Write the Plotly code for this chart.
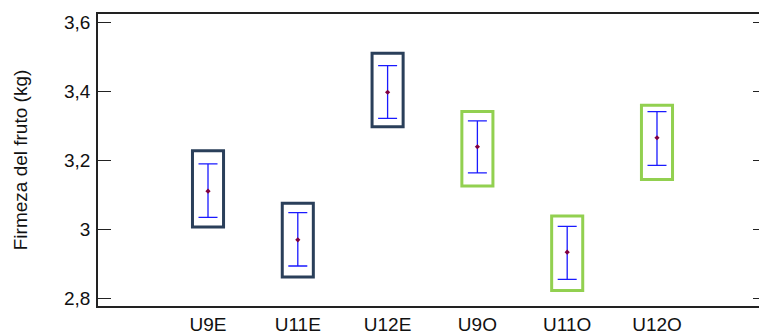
import plotly.graph_objects as go

categories = ["U9E", "U11E", "U12E", "U9O", "U11O", "U12O"]
means = [3.110, 2.969, 3.397, 3.239, 2.933, 3.265]
err_high = [3.189, 3.048, 3.474, 3.314, 3.008, 3.341]
err_low = [3.034, 2.893, 3.321, 3.163, 2.854, 3.185]
box_high = [3.227, 3.075, 3.510, 3.341, 3.038, 3.359]
box_low = [3.006, 2.861, 3.297, 3.125, 2.822, 3.144]
groups = ["E", "E", "E", "O", "O", "O"]
y_ticks = [2.8, 3.0, 3.2, 3.4, 3.6]

box_colors = {"E": "#2a3f5a", "O": "#92d050"}
xs = list(range(len(categories)))
half_w = 0.173

fig = go.Figure()

shapes = []
for i, (lo, hi, g) in enumerate(zip(box_low, box_high, groups)):
    shapes.append(dict(type="rect", xref="x", yref="y",
                       x0=xs[i] - half_w, x1=xs[i] + half_w, y0=lo, y1=hi,
                       line=dict(color=box_colors[g], width=3), layer="below"))

fig.add_trace(go.Scatter(
    x=xs, y=means, mode="markers",
    marker=dict(color="#800040", size=4, symbol="diamond"),
    error_y=dict(type="data", symmetric=False,
                 array=[h - m for h, m in zip(err_high, means)],
                 arrayminus=[m - l for m, l in zip(means, err_low)],
                 color="#1a1aff", thickness=1.3, width=9.5),
    showlegend=False, hoverinfo="skip"))

fig.add_trace(go.Scatter(x=[xs[0]], y=[means[0]], yaxis="y2", mode="markers",
                         marker=dict(opacity=0), showlegend=False, hoverinfo="skip"))

font = "Liberation Sans, Arial, sans-serif"
fig.update_layout(
    width=759, height=331,
    margin=dict(l=98, r=0, t=14, b=25),
    paper_bgcolor="white", plot_bgcolor="white",
    separators=",.",
    font=dict(family=font, size=19, color="#111111"),
    shapes=shapes,
    xaxis=dict(range=[-1.225, 6.136], tickmode="array", tickvals=xs, ticktext=categories,
               showline=True, mirror=True, linecolor="#222222", linewidth=1.5,
               ticks="", showgrid=False, zeroline=False, ticklabelstandoff=0,
               automargin=False,
               tickfont=dict(size=19, family=font)),
    yaxis=dict(range=[2.777, 3.624], tickmode="array", tickvals=y_ticks,
               showline=True, linecolor="#222222", linewidth=1.5,
               ticks="inside", ticklen=13, tickwidth=1.3, tickcolor="#222222",
               showgrid=False, zeroline=False, ticklabelstandoff=2,
               automargin=False,
               tickfont=dict(size=19, family=font),
               title=dict(text="Firmeza del fruto (kg)", standoff=31,
                          font=dict(size=19, family=font))),
    yaxis2=dict(range=[2.777, 3.624], overlaying="y", side="right",
                tickmode="array", tickvals=y_ticks, showticklabels=False,
                ticks="inside", ticklen=6, tickwidth=1.3, tickcolor="#222222",
                showline=False, showgrid=False, zeroline=False, automargin=False),
)

fig.write_html("out.html")
